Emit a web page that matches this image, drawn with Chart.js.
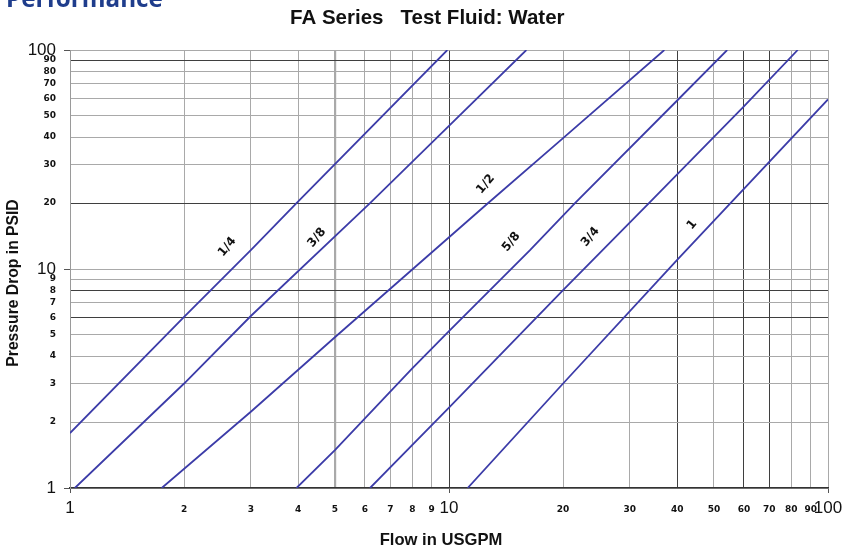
<!DOCTYPE html>
<html>
<head>
<meta charset="utf-8">
<script src="https://cdn.jsdelivr.net/npm/chart.js@4.4.1/dist/chart.umd.min.js"></script>
<style>
html,body{margin:0;padding:0;background:#ffffff;}
canvas{display:block;}
</style>
</head>
<body>
<canvas id="c" width="862" height="550"></canvas>
<script>
// ---- data ----
const seriesNames = ['1/4', '3/8', '1/2', '5/8', '3/4', '1'];

const flow_1_4 = [1, 2, 3, 3.96, 9.9];
const psid_1_4 = [1.78, 6.05, 12.2, 20, 100];

const flow_3_8 = [1.03, 2, 3, 6.19, 10, 16];
const psid_3_8 = [1, 3.0, 6.1, 20, 45, 100];

const flow_1_2 = [1.746, 3, 5, 12.6, 20, 37];
const psid_1_2 = [1, 2.23, 4.88, 19.8, 39.6, 100];

const flow_5_8 = [3.96, 5, 8, 10, 16.36, 21.5, 40, 54.2];
const psid_5_8 = [1, 1.49, 3.52, 5.21, 12.2, 20, 58.8, 100];

const flow_3_4 = [6.19, 10, 20, 33.7, 60, 83.2];
const psid_3_4 = [1, 2.33, 8, 20, 55.3, 100];

const flow_1 = [11.2, 20, 40, 100];
const psid_1 = [1, 3, 11, 59.5];

const flowSeries = [flow_1_4, flow_3_8, flow_1_2, flow_5_8, flow_3_4, flow_1];
const psidSeries = [psid_1_4, psid_3_8, psid_1_2, psid_5_8, psid_3_4, psid_1];

// tick labels
const xTicks = [1, 2, 3, 4, 5, 6, 7, 8, 9, 10, 20, 30, 40, 50, 60, 70, 80, 90, 100];
const yTicks = [1, 2, 3, 4, 5, 6, 7, 8, 9, 10, 20, 30, 40, 50, 60, 70, 80, 90, 100];
const majorTicks = [1, 10, 100];
const darkXLines = [10, 40, 60, 70];
const darkYLines = [6, 8, 20, 90];

// where each size label sits (data coordinates)
const labelFlow = [2.6, 4.48, 12.5, 14.6, 23.6, 43.8];
const labelPsid = [12.6, 13.9, 24.4, 13.3, 14.0, 15.9];

// ---- chart ----
const lineColor = '#3c3ca8';
const lightGrid = '#a9a9a9';
const darkGrid = '#3f3f3f';

const datasets = seriesNames.map((name, i) => ({
  label: name,
  data: flowSeries[i].map((f, j) => ({ x: f, y: psidSeries[i][j] })),
  showLine: true,
  borderColor: lineColor,
  backgroundColor: lineColor,
  borderWidth: 1.8,
  pointRadius: 0,
  pointHoverRadius: 0,
  tension: 0,
  fill: false
}));

function fitFont(ctx, text, weight, family, targetWidth) {
  ctx.font = weight + ' 100px ' + family;
  const w = ctx.measureText(text).width;
  return 100 * targetWidth / w;
}

const textPlugin = {
  id: 'texts',
  afterDraw(chart) {
    const { ctx, scales } = chart;
    const xs = scales.x, ys = scales.y;
    ctx.save();

    // cut-off page heading
    let s = fitFont(ctx, 'Performance', 'bold', '"Open Sans"', 157);
    ctx.font = 'bold ' + s.toFixed(1) + 'px "Open Sans"';
    ctx.fillStyle = '#1f3d8c';
    ctx.textAlign = 'left';
    ctx.textBaseline = 'alphabetic';
    ctx.fillText('Performance', 6, 7);

    // chart title
    const title = 'FA Series   Test Fluid: Water';
    s = fitFont(ctx, title, 'bold', '"Liberation Sans"', 275);
    ctx.font = 'bold ' + s.toFixed(1) + 'px "Liberation Sans"';
    ctx.fillStyle = '#111111';
    ctx.textBaseline = 'middle';
    ctx.textAlign = 'left';
    ctx.fillText(title, 290, 18);

    // x axis title
    const xt = 'Flow in USGPM';
    s = fitFont(ctx, xt, 'bold', '"Liberation Sans"', 123);
    ctx.font = 'bold ' + s.toFixed(1) + 'px "Liberation Sans"';
    ctx.textAlign = 'center';
    ctx.fillText(xt, 441, 540);

    // y axis title
    const yt = 'Pressure Drop in PSID';
    s = fitFont(ctx, yt, 'bold', '"Liberation Sans"', 168);
    ctx.font = 'bold ' + s.toFixed(1) + 'px "Liberation Sans"';
    ctx.save();
    ctx.translate(14, 283);
    ctx.rotate(-Math.PI / 2);
    ctx.fillText(yt, 0, 0);
    ctx.restore();

    // size labels along the curves
    ctx.font = 'bold 12px "DejaVu Sans"';
    ctx.fillStyle = '#111111';
    ctx.textAlign = 'center';
    ctx.textBaseline = 'middle';
    seriesNames.forEach((n, i) => {
      const px = xs.getPixelForValue(labelFlow[i]);
      const py = ys.getPixelForValue(labelPsid[i]);
      ctx.save();
      ctx.translate(px, py);
      ctx.rotate(-50 * Math.PI / 180);
      ctx.fillText(n, 0, 0);
      ctx.restore();
    });
    ctx.restore();
  }
};

const tickValue = (c) => (c && c.tick) ? c.tick.value : null;

new Chart(document.getElementById('c'), {
  type: 'scatter',
  data: { datasets },
  options: {
    responsive: false,
    animation: false,
    events: [],
    layout: { padding: { top: 50, right: 34, left: 0, bottom: 0 } },
    plugins: {
      legend: { display: false },
      tooltip: { enabled: false },
      title: { display: false }
    },
    scales: {
      x: {
        type: 'logarithmic',
        min: 1,
        max: 100,
        afterBuildTicks: (sc) => { sc.ticks = xTicks.map(v => ({ value: v })); },
        afterFit: (sc) => { sc.height = 62; },
        border: { display: true, color: '#333333', width: 1.5 },
        grid: {
          color: (c) => darkXLines.includes(tickValue(c)) ? darkGrid : lightGrid,
          lineWidth: (c) => tickValue(c) === 5 ? 2.2 : 1,
          drawTicks: true,
          tickLength: 5,
          tickColor: (c) => majorTicks.includes(tickValue(c)) ? '#555555' : 'rgba(0,0,0,0)',
          tickWidth: 1
        },
        ticks: {
          autoSkip: false,
          maxRotation: 0,
          minRotation: 0,
          padding: 5,
          color: '#111111',
          callback: (v) => String(v),
          font: (c) => majorTicks.includes(tickValue(c))
            ? { family: '"Liberation Sans"', size: 17, weight: 'normal', lineHeight: '20px' }
            : { family: '"DejaVu Sans"', size: 9, weight: 'bold', lineHeight: '24px' }
        }
      },
      y: {
        type: 'logarithmic',
        min: 1,
        max: 100,
        afterBuildTicks: (sc) => { sc.ticks = yTicks.map(v => ({ value: v })); },
        afterFit: (sc) => { sc.width = 70; },
        border: { display: true, color: '#9a9a9a', width: 1 },
        grid: {
          color: (c) => darkYLines.includes(tickValue(c)) ? darkGrid : lightGrid,
          lineWidth: 1,
          drawTicks: true,
          tickLength: 6,
          tickColor: (c) => majorTicks.includes(tickValue(c)) ? '#555555' : 'rgba(0,0,0,0)',
          tickWidth: 1
        },
        ticks: {
          autoSkip: false,
          padding: 8,
          color: '#111111',
          callback: (v) => String(v),
          font: (c) => majorTicks.includes(tickValue(c))
            ? { family: '"Liberation Sans"', size: 17, weight: 'normal' }
            : { family: '"DejaVu Sans"', size: 9, weight: 'bold' }
        }
      }
    }
  },
  plugins: [textPlugin]
});
</script>
</body>
</html>
